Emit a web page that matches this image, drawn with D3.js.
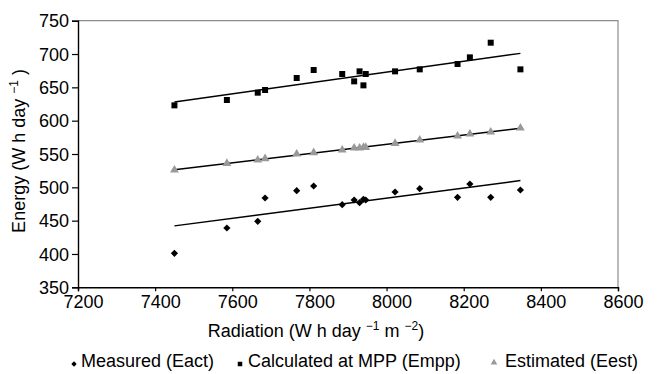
<!DOCTYPE html>
<html>
<head>
<meta charset="utf-8">
<script src="https://cdn.jsdelivr.net/npm/d3@7"></script>
<style>
  html, body { margin: 0; padding: 0; background: #fff; }
  svg { display: block; font-family: "Liberation Sans", Arial, sans-serif; }
</style>
</head>
<body>
<svg id="chart" width="660" height="374"></svg>
<script>
// ---- Data ----
const radiation  = [7450, 7586, 7666, 7685, 7767, 7811, 7885, 7916, 7930, 7940, 7946, 8022, 8086, 8184, 8216, 8270, 8347];
const measured   = [401, 439, 449, 484, 495, 502, 474, 481, 477, 482, 481, 493, 498, 485, 505, 485, 496];
const calculated = [623, 631, 642, 646, 664, 676, 670, 659, 674, 653, 670, 674, 677, 685, 695, 717, 677];
const estimated  = [526, 536, 541, 543, 550, 552, 556, 559, 559, 560, 560, 566, 571, 577, 580, 583, 589];
const xTicks = [7200, 7400, 7600, 7800, 8000, 8200, 8400, 8600];
const yTicks = [350, 400, 450, 500, 550, 600, 650, 700, 750];
const seriesNames = ["Measured (Eact)", "Calculated at MPP (Empp)", "Estimated (Eest)"];

const svg = d3.select("#chart");
const plot = { left: 78, right: 618, top: 20.7, bottom: 287.3 };

const x = d3.scaleLinear().domain([7200, 8600]).range([plot.left, plot.right]);
const y = d3.scaleLinear().domain([350, 750]).range([plot.bottom, plot.top]);

// frame: top/right gray
svg.append("path")
  .attr("d", `M${plot.left},${plot.top}H${plot.right}V${plot.bottom}`)
  .attr("fill", "none").attr("stroke", "#8c8c8c").attr("stroke-width", 1.2);

// axes
const yAxis = d3.axisLeft(y).tickValues(yTicks).tickSize(6).tickPadding(3).tickFormat(d3.format("d"));
const xAxis = d3.axisBottom(x).tickValues(xTicks).tickSize(4).tickPadding(4).tickFormat(d3.format("d"));

const gy = svg.append("g").attr("transform", `translate(${plot.left},0)`).call(yAxis);
const gx = svg.append("g").attr("transform", `translate(0,${plot.bottom})`).call(xAxis);
[gx, gy].forEach(g => {
  g.select(".domain").attr("stroke", "#000").attr("stroke-width", 1.4);
  g.selectAll(".tick line").attr("stroke", "#000").attr("stroke-width", 1.2);
  g.selectAll(".tick text").attr("fill", "#000").style("font-size", "18px")
    .style("font-family", '"Liberation Sans", Arial, sans-serif');
});
gx.selectAll(".tick text").attr("dx", 5).attr("dy", "0.7em");
gy.selectAll(".tick text").attr("dy", "0.34em");

// regression helper
function linreg(xs, ys) {
  const mx = d3.mean(xs), my = d3.mean(ys);
  let sxy = 0, sxx = 0;
  xs.forEach((v, i) => { sxy += (v - mx) * (ys[i] - my); sxx += (v - mx) * (v - mx); });
  const b = sxy / sxx;
  return v => my + b * (v - mx);
}
const xExt = d3.extent(radiation);
const line = d3.line().x(d => x(d[0])).y(d => y(d[1]));

const series = [
  { vals: measured,   sym: "diamond",  color: "#000" },
  { vals: calculated, sym: "square",   color: "#000" },
  { vals: estimated,  sym: "triangle", color: "#999" }
];

function symPath(kind) {
  if (kind === "diamond") return d3.symbol(d3.symbolSquare, 26)();
  if (kind === "square") return d3.symbol(d3.symbolSquare, 36)();
  return d3.symbol(d3.symbolTriangle, 34)();
}
function symRot(kind) { return kind === "diamond" ? " rotate(45)" : ""; }

series.forEach(s => {
  const f = linreg(radiation, s.vals);
  svg.append("path")
    .attr("d", line([[xExt[0], f(xExt[0])], [xExt[1], f(xExt[1])]]))
    .attr("fill", "none").attr("stroke", "#000").attr("stroke-width", 1.4);
});
series.forEach(s => {
  svg.append("g").selectAll("path").data(radiation).join("path")
    .attr("d", symPath(s.sym))
    .attr("transform", (d, i) => `translate(${x(d)},${y(s.vals[i])})${symRot(s.sym)}`)
    .attr("fill", s.color);
});

// axis titles
const xt = svg.append("text").attr("x", 316).attr("y", 337).attr("text-anchor", "middle")
  .style("font-size", "18px").attr("fill", "#000");
xt.append("tspan").text("Radiation (W h day ");
xt.append("tspan").attr("dy", -7).style("font-size", "12px").text("\u22121");
xt.append("tspan").attr("dy", 7).text(" m ");
xt.append("tspan").attr("dy", -7).style("font-size", "12px").text("\u22122");
xt.append("tspan").attr("dy", 7).text(")");

const yt = svg.append("text").attr("transform", "translate(25,151) rotate(-90)").attr("text-anchor", "middle")
  .style("font-size", "18px").attr("fill", "#000");
yt.append("tspan").text("Energy (W h day ");
yt.append("tspan").attr("dy", -7).style("font-size", "12px").text("\u22121");
yt.append("tspan").attr("dy", 7).text(" )");

// legend
const legendPos = [ { mx: 74, tx: 81 }, { mx: 240, tx: 248 }, { mx: 494, tx: 505 } ];
series.forEach((s, i) => {
  const scale = 0.75;
  svg.append("path").attr("d", symPath(s.sym))
    .attr("transform", `translate(${legendPos[i].mx},${i === 2 ? 362.5 : 364}) scale(${scale})${symRot(s.sym)}`)
    .attr("fill", s.color);
  svg.append("text").attr("x", legendPos[i].tx).attr("y", 367)
    .style("font-size", "18px").attr("fill", "#000").text(seriesNames[i]);
});
</script>
</body>
</html>
